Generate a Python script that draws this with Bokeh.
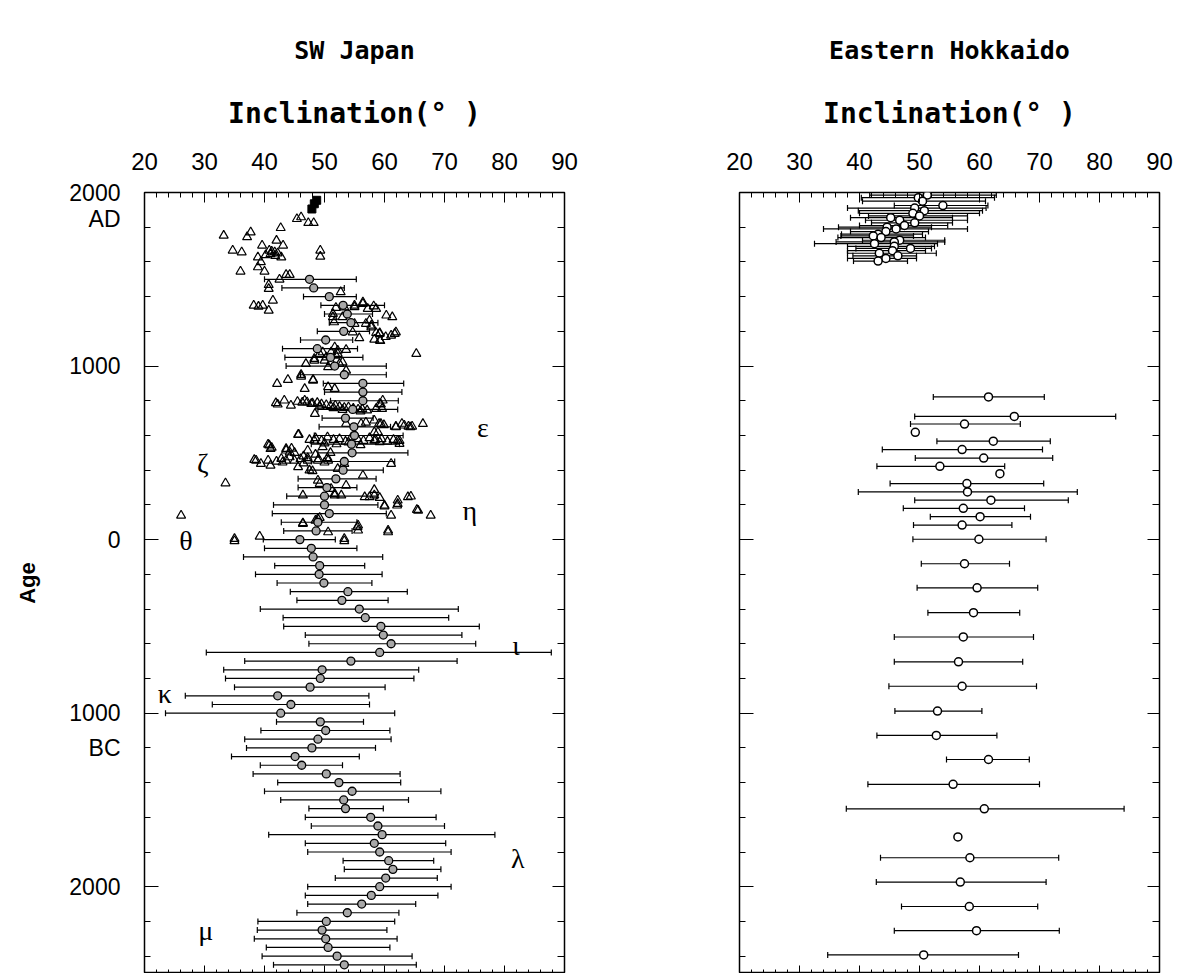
from bokeh.plotting import figure
from bokeh.models import (Range1d, LinearAxis, FixedTicker, Whisker, Label,
                          ColumnDataSource, TeeHead, Title)
from bokeh.layouts import row
from bokeh.embed import file_html
from bokeh.resources import INLINE

# ---------------- DATA ----------------
# SW Japan: compiled curve (circles with error bars)
sw_age = [1500, 1450, 1400, 1350, 1300, 1250, 1200, 1150, 1100, 1050, 1000, 950,
          900, 850, 800, 750, 700, 650, 600, 550, 500, 450, 400, 350, 300, 250,
          200, 150, 100, 50, 0, -50, -100, -150, -200, -250, -300, -350, -400,
          -450, -500, -550, -600, -650, -700, -750, -800, -850, -900, -950,
          -1000, -1050, -1100, -1150, -1200, -1250, -1300, -1350, -1400, -1450,
          -1500, -1550, -1600, -1650, -1700, -1750, -1800, -1850, -1900, -1950,
          -2000, -2050, -2100, -2150, -2200, -2250, -2300, -2350, -2400, -2450]
sw_inc = [47.5, 48.2, 50.8, 53.1, 53.8, 54.4, 53.2, 50.2, 48.8, 51.0, 51.7, 53.3,
          56.4, 56.4, 56.4, 54.7, 53.5, 54.9, 55.0, 54.5, 54.6, 53.3, 53.1, 51.9,
          50.4, 50.0, 50.0, 50.8, 48.9, 48.6, 45.9, 47.8, 48.1, 49.2, 49.1, 49.9,
          53.9, 52.9, 55.8, 56.8, 59.4, 59.8, 61.1, 59.2, 54.4, 49.6, 49.3, 47.6,
          42.2, 44.4, 42.7, 49.3, 50.2, 48.9, 47.9, 45.1, 46.2, 50.3, 52.4, 54.6,
          53.2, 53.5, 57.7, 58.9, 59.6, 58.3, 59.2, 60.7, 61.4, 60.2, 59.2, 57.8,
          56.2, 53.8, 50.3, 49.6, 50.2, 50.6, 52.1, 53.3]
sw_lo = [40.0, 42.9, 46.5, 49.4, 50.0, 50.8, 48.8, 46.0, 43.0, 43.4, 43.6, 46.0,
         49.8, 50.0, 51.0, 48.9, 49.6, 49.1, 48.3, 47.8, 48.9, 47.8, 47.2, 45.6,
         45.6, 43.7, 41.5, 41.3, 42.8, 43.2, 39.8, 40.0, 36.5, 41.7, 38.5, 42.1,
         44.3, 45.4, 39.3, 43.1, 43.2, 46.8, 47.4, 30.3, 36.7, 33.2, 33.5, 35.0,
         26.8, 31.3, 23.5, 42.0, 39.4, 36.7, 37.0, 34.5, 39.3, 38.1, 42.2, 40.0,
         42.7, 47.4, 46.8, 47.8, 40.7, 46.8, 47.2, 53.1, 53.3, 51.8, 47.2, 46.8,
         47.2, 45.4, 38.9, 38.8, 38.3, 40.3, 39.6, 41.5]
sw_hi = [55.3, 53.3, 55.3, 60.0, 58.0, 58.9, 57.5, 54.7, 55.5, 56.4, 60.3, 60.3,
         63.2, 62.9, 62.3, 62.2, 58.1, 61.0, 63.1, 62.5, 63.9, 61.7, 59.8, 58.6,
         55.4, 58.8, 58.9, 60.3, 55.4, 54.6, 51.8, 55.4, 59.7, 56.7, 59.6, 57.9,
         63.8, 60.6, 72.3, 70.7, 75.8, 72.9, 75.2, 87.8, 72.1, 65.7, 64.9, 60.1,
         57.4, 57.5, 61.7, 56.5, 60.9, 61.1, 58.5, 55.8, 53.0, 62.6, 62.7, 69.4,
         64.0, 59.8, 68.6, 70.0, 78.4, 70.2, 71.1, 68.2, 69.4, 68.8, 71.1, 68.9,
         65.2, 62.4, 61.7, 60.4, 62.1, 60.9, 64.6, 65.3]

# SW Japan: archaeomagnetic data (open triangles)
tri_age = [1848, 1858, 1825, 1825, 1796, 1771, 1743, 1752, 1723, 1695, 1695, 1666,
           1656, 1666, 1656, 1645, 1627, 1627, 1640, 1599, 1570, 1545, 1545, 1666,
           1631, 1499, 1526, 1526, 1468, 1445, 1426, 1378, 1349, 1349, 1320, 1343,
           1660, 1650, 1635,
           1359, 1340, 1336, 1330, 1330, 1345, 1368, 1339, 1349, 1301, 1292, 1282,
           1282, 1282, 1263, 1253, 1244, 1244, 1234, 1224, 1195, 1186, 1191, 1191,
           1186, 1176, 1168, 1161, 1153, 1148, 1145, 1195, 1109, 1094, 1090, 1080,
           1080, 1071, 1071, 1071, 1061, 1051, 1042, 1032, 1032, 1023, 1022, 1013,
           1013, 994, 974,
           950, 940, 921, 921, 917, 898, 879, 869, 869,
           802, 787, 779, 773, 802, 783, 725, 783, 802, 779, 754, 754,
           795, 790, 792, 785, 788, 780, 776, 770, 773, 765, 760, 763, 755, 750,
           752, 745, 740, 748, 768, 758,
           668, 668, 675, 668, 660, 652, 668, 652, 652, 667, 687, 667, 648, 658,
           648, 606, 604, 619, 619,
           575, 585, 570, 590, 575, 580, 565, 590, 580, 570, 585, 575, 580, 565,
           575, 570, 555, 550, 560, 545, 562, 571, 552, 571, 571,
           548, 543, 523, 523, 514, 504, 456, 437, 456, 427, 466, 456, 456, 418,
           456, 440, 456, 456, 514, 533, 437, 437, 460, 450, 445, 475, 465, 480,
           470, 490, 465, 445, 470, 500, 500, 525, 530, 408, 399, 395,
           370, 341, 312, 325, 322, 293,
           255, 255, 255, 245, 245, 255, 241, 226, 245, 249, 197, 197, 172, 139,
           139, 168, 264, 287, 206, 192,
           139, 120, 126, 95, 91, 82, 72, 53, 53, 43, 43, 18, 5, -8, -8, 5, 110]
tri_inc = [45.4, 46.1, 47.3, 48.2, 42.7, 37.7, 37.1, 33.2, 42.0, 39.6, 43.1, 34.7,
           36.2, 40.8, 41.7, 41.0, 38.9, 42.8, 40.2, 39.4, 38.9, 40.0, 36.0, 49.3,
           49.3, 42.5, 43.6, 44.2, 40.7, 40.7, 52.7, 41.4, 38.2, 39.7, 40.7, 39.0,
           41.2, 42.2, 41.8,
           56.4, 55.0, 51.9, 57.2, 58.6, 58.2, 56.4, 53.3, 55.0, 51.4, 60.3, 61.3,
           53.0, 51.4, 57.5, 51.6, 55.0, 56.9, 57.8, 57.8, 61.9, 61.7, 58.6, 59.2,
           59.2, 61.1, 60.2, 55.8, 58.3, 59.2, 59.3, 54.7, 51.7, 53.6, 52.2, 49.7,
           51.1, 49.2, 52.2, 65.3, 51.9, 50.3, 48.3, 50.0, 48.3, 51.1, 53.0, 52.5,
           46.9, 50.6, 53.6,
           46.1, 46.1, 48.1, 43.9, 48.1, 42.1, 50.6, 46.7, 51.7,
           43.3, 41.9, 42.2, 44.4, 46.7, 47.8, 48.4, 59.2, 59.7, 59.4, 58.6, 59.6,
           45.5, 46.3, 47.1, 48.0, 48.8, 49.5, 50.3, 51.0, 51.8, 52.5, 53.3, 54.0,
           54.8, 55.6, 56.3, 57.1, 56.0, 53.0, 49.2, 51.5,
           53.6, 56.1, 56.9, 59.1, 59.9, 61.9, 62.9, 64.0, 64.6, 66.4, 58.3, 59.4,
           61.9, 63.3, 64.3, 45.7, 45.6, 58.3, 58.9,
           47.5, 48.5, 49.5, 50.5, 51.5, 52.5, 53.5, 54.5, 55.5, 56.5, 57.5, 58.5,
           59.5, 60.5, 61.5, 62.5, 50.0, 52.0, 54.0, 56.0, 59.2, 62.2, 62.5, 58.3,
           48.3,
           40.6, 40.8, 41.0, 43.6, 43.6, 44.2, 38.6, 39.4, 40.6, 41.0, 42.8, 43.6,
           45.0, 45.6, 47.2, 46.5, 48.9, 50.6, 47.2, 49.7, 53.3, 61.1, 38.3, 42.0,
           43.0, 44.2, 46.0, 46.5, 47.2, 48.5, 49.0, 50.0, 50.5, 51.0, 45.0, 44.5,
           41.2, 52.2, 47.5, 48.0,
           56.4, 48.9, 53.6, 33.5, 49.2, 51.1,
           46.4, 51.7, 52.8, 56.7, 57.5, 58.3, 59.2, 62.2, 63.9, 64.4, 60.0, 62.1,
           65.4, 61.1, 67.7, 65.6, 51.7, 58.3, 62.2, 60.0,
           26.1, 48.9, 49.2, 46.4, 46.4, 55.6, 55.5, 55.6, 60.6, 60.6, 50.6, 39.2,
           35.0, 35.0, 53.3, 53.3, 48.5]

# SW Japan: observatory data (filled squares)
sq_age = [1955, 1935, 1905]
sq_inc = [48.7, 48.3, 47.9]

# Eastern Hokkaido (open circles, with error bars where present)
eh_age = [1985, 1970, 1950, 1925, 1910, 1895, 1880, 1865, 1855, 1840, 1825, 1810,
          1800, 1790, 1775, 1760, 1750, 1740, 1725, 1715, 1705, 1690, 1678, 1665,
          1650, 1635, 1620, 1605,
          822, 710, 666, 618, 567, 519, 470, 422, 380, 323, 275, 227, 180, 132, 84,
          2, -139, -278, -421, -561, -704, -845, -988, -1128, -1267, -1410, -1551,
          -1713, -1833, -1973, -2114, -2253, -2393]
eh_inc = [51.3, 49.8, 50.5, 53.9, 49.2, 50.8, 48.9, 50.0, 45.2, 46.7, 49.2, 47.5,
          44.6, 46.1, 44.4, 43.1, 42.3, 43.6, 46.7, 45.8, 42.5, 45.8, 48.5, 45.5,
          43.3, 46.4, 44.4, 43.1,
          61.5, 65.8, 57.5, 49.3, 62.3, 57.1, 60.7, 53.4, 63.4, 57.9, 58.0, 61.9,
          57.3, 60.1, 57.1, 59.9, 57.5, 59.6, 59.0, 57.3, 56.5, 57.1, 53.0, 52.8,
          61.5, 55.6, 60.8, 56.4, 58.4, 56.8, 58.3, 59.5, 50.7]
eh_lo = [41.7, 40.3, 40.5, 45.8, 38.0, 39.8, 40.0, 41.5, 38.5, 41.0, 42.0, 40.0,
         36.5, 34.0, 38.5, 37.0, 36.9, 36.4, 40.5, 36.1, 32.5, 38.0, 39.4, 38.0,
         38.0, 38.9, 38.0, 39.0,
         52.3, 49.2, 48.5, None, 52.9, 43.8, 49.3, 42.9, None, 45.1, 39.8, 49.2,
         47.3, 51.8, 49.0, 48.9, 50.3, 49.6, 51.4, 45.8, 45.8, 44.9, 45.9, 42.9,
         54.5, 41.4, 37.8, None, 43.5, 42.8, 47.0, 45.8, 34.7]
eh_hi = [62.8, 62.5, 61.0, 61.4, 61.1, 60.5, 60.0, 58.0, 55.5, 58.0, 55.5, 54.7,
         52.0, 58.0, 51.5, 50.5, 49.0, 51.0, 54.2, 54.2, 53.0, 52.5, 52.0, 51.0,
         52.8, 49.5, 49.5, 48.0,
         70.8, 82.7, 66.8, None, 71.8, 70.5, 72.2, 64.2, None, 70.7, 76.3, 74.8,
         67.5, 68.5, 65.4, 71.1, 65.0, 69.7, 66.7, 69.0, 67.2, 69.5, 60.4, 62.9,
         68.3, 70.0, 84.1, None, 73.2, 71.1, 69.7, 73.3, 66.5]

x_ticks = [20, 30, 40, 50, 60, 70, 80, 90]
x_minor = [20, 22, 24, 26, 28, 30, 32, 34, 36, 38, 40, 42, 44, 46, 48, 50, 52, 54,
           56, 58, 60, 62, 64, 66, 68, 70, 72, 74, 76, 78, 80, 82, 84, 86, 88, 90]
y_ticks = [2000, 1000, 0, -1000, -2000]
y_minor = [2000, 1800, 1600, 1400, 1200, 1000, 800, 600, 400, 200, 0, -200, -400,
           -600, -800, -1000, -1200, -1400, -1600, -1800, -2000, -2200, -2400]
# age tick labels (the "AD"/"BC" era words sit just under their year)
y_label_pos = [2000, 1850, 1000, 0, -1000, -1200, -2000]
y_label_txt = ["2000", "AD", "1000", "0", "1000", "BC", "2000"]

greek = ["ε", "ζ", "η", "θ", "ι", "κ", "λ", "μ"]
greek_inc = [76.4, 29.7, 74.2, 26.9, 81.9, 23.4, 82.2, 30.2]
greek_age = [646, 439, 168, -5, -609, -886, -1836, -2251]

# ---------------- STYLE ----------------
TICK_FONT = "Liberation Sans"
MONO = "DejaVu Sans Mono"
FRAME_W, FRAME_H = 420, 781
TOP = 192
HAS_STANDOFF = "standoff" in Title.properties()


def hide_labels(ax):
    ax.major_label_text_color = None
    ax.major_label_text_font_size = "1px"
    ax.major_label_standoff = 0
    ax.axis_line_color = None


def base_figure(border_left, border_right, title):
    p = figure(frame_width=FRAME_W, frame_height=FRAME_H,
               x_range=Range1d(20, 90), y_range=Range1d(-2500, 2000),
               x_axis_location="above", y_axis_location="left",
               toolbar_location=None, output_backend="svg",
               min_border_left=border_left, min_border_right=border_right,
               min_border_top=TOP, min_border_bottom=0)
    p.background_fill_color = "white"
    p.border_fill_color = "white"
    p.outline_line_color = "black"
    p.outline_line_width = 1.5
    p.grid.visible = False

    p.title.text = title
    p.title.align = "center"
    p.title.text_font = MONO
    p.title.text_font_style = "bold"
    p.title.text_font_size = "25px"
    p.title.text_color = "black"
    if HAS_STANDOFF:
        p.title.standoff = 57

    xt = FixedTicker(ticks=x_ticks, minor_ticks=x_minor)
    yt = FixedTicker(ticks=y_ticks, minor_ticks=y_minor)

    top = p.xaxis[0]
    top.ticker = xt
    top.major_tick_in = 10
    top.major_tick_out = 0
    top.minor_tick_in = 5
    top.minor_tick_out = 0
    top.axis_line_color = None
    top.major_label_text_font = TICK_FONT
    top.major_label_text_font_size = "24px"
    top.major_label_text_color = "black"
    top.major_label_standoff = 23
    top.axis_label = "Inclination(° )"
    top.axis_label_text_font = MONO
    top.axis_label_text_font_style = "bold"
    top.axis_label_text_font_size = "28px"
    top.axis_label_text_color = "black"
    top.axis_label_standoff = 20

    bottom = LinearAxis(ticker=xt, major_tick_in=8, major_tick_out=0,
                        minor_tick_in=4, minor_tick_out=0)
    hide_labels(bottom)
    p.add_layout(bottom, "below")

    left = p.yaxis[0]
    left.ticker = yt
    left.major_tick_in = 14
    left.major_tick_out = 0
    left.minor_tick_in = 6
    left.minor_tick_out = 0
    hide_labels(left)

    right = LinearAxis(ticker=yt, major_tick_in=12, major_tick_out=0,
                       minor_tick_in=7, minor_tick_out=0)
    hide_labels(right)
    p.add_layout(right, "right")
    return p


def add_whiskers(p, ages, lo, hi):
    keep = [i for i in range(len(ages)) if lo[i] is not None]
    src = ColumnDataSource(dict(age=[ages[i] for i in keep],
                                lo=[lo[i] for i in keep],
                                hi=[hi[i] for i in keep]))
    w = Whisker(source=src, base="age", lower="lo", upper="hi",
                dimension="width", line_color="black", line_width=1.2,
                lower_head=TeeHead(size=6, line_color="black", line_width=1.2),
                upper_head=TeeHead(size=6, line_color="black", line_width=1.2),
                level="underlay")
    p.add_layout(w)


# ---------------- LEFT PANEL: SW Japan ----------------
p1 = base_figure(144, 30, "SW Japan")

# labelled age axis (labels only, ticks drawn by the inner axis)
age_axis = LinearAxis(ticker=FixedTicker(ticks=y_label_pos, minor_ticks=[]),
                      major_label_overrides=dict(zip(y_label_pos, y_label_txt)),
                      major_tick_in=0, major_tick_out=0,
                      minor_tick_in=0, minor_tick_out=0,
                      axis_line_color=None,
                      major_label_text_font=TICK_FONT,
                      major_label_text_font_size="23px",
                      major_label_text_color="black",
                      major_label_standoff=24,
                      major_label_orientation="horizontal",
                      axis_label="Age",
                      axis_label_text_font="Liberation Sans",
                      axis_label_text_font_style="bold",
                      axis_label_text_font_size="22px",
                      axis_label_text_color="black",
                      axis_label_standoff=26)
p1.add_layout(age_axis, "left")

add_whiskers(p1, sw_age, sw_lo, sw_hi)
p1.scatter(tri_inc, tri_age, marker="triangle", size=9, fill_color=None,
           line_color="black", line_width=1.2)
p1.scatter(sq_inc, sq_age, marker="square", size=8, fill_color="black",
           line_color="black")
p1.scatter(sw_inc, sw_age, marker="circle", size=8, fill_color="#a8a8a8",
           line_color="black", line_width=1.3)

for g, gx, gy in zip(greek, greek_inc, greek_age):
    p1.add_layout(Label(x=gx, y=gy, text=g, text_align="center",
                        text_baseline="middle", text_font="Liberation Serif",
                        text_font_size="28px", text_color="black"))

# ---------------- RIGHT PANEL: Eastern Hokkaido ----------------
p2 = base_figure(145, 16, "Eastern Hokkaido")
add_whiskers(p2, eh_age, eh_lo, eh_hi)
p2.scatter(eh_inc, eh_age, marker="circle", size=8, fill_color="white",
           line_color="black", line_width=1.5)

layout = row(p1, p2)
open("out.html", "w").write(file_html(layout, INLINE))
